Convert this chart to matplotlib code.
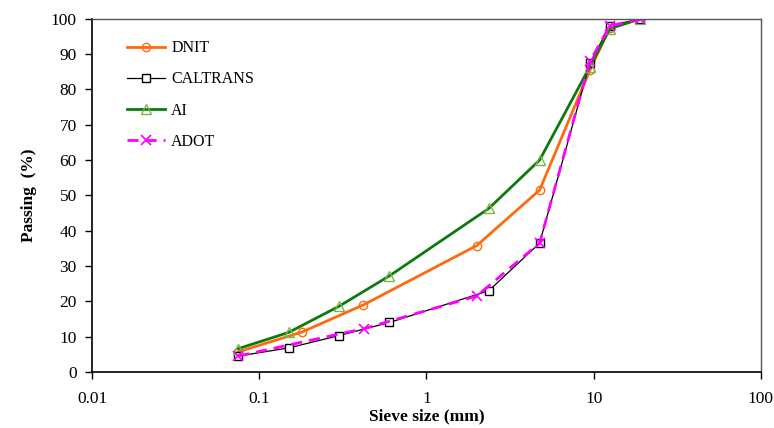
import matplotlib
matplotlib.use("Agg")
import matplotlib.pyplot as plt
from matplotlib.ticker import FixedLocator, FixedFormatter, NullLocator

plt.rcParams["font.family"] = ["Liberation Serif", "DejaVu Serif"]

# sieve openings (mm) and percent passing per specification
dnit_size = [0.075, 0.18, 0.42, 2.0, 4.75, 9.5, 12.5, 19.0]
dnit_pass = [5.7, 11.3, 19.0, 35.8, 51.5, 85.5, 97.5, 100.0]

caltrans_size = [0.075, 0.15, 0.30, 0.60, 2.36, 4.75, 9.5, 12.5, 19.0]
caltrans_pass = [4.5, 6.8, 10.3, 14.0, 23.0, 36.5, 87.5, 98.0, 100.0]

ai_size = [0.075, 0.15, 0.30, 0.60, 2.36, 4.75, 9.5, 12.5, 19.0]
ai_pass = [6.6, 11.2, 18.6, 27.2, 46.3, 60.0, 86.5, 97.2, 100.0]

adot_size = [0.075, 0.425, 2.0, 4.75, 9.5, 12.5, 19.0]
adot_pass = [4.5, 12.3, 21.5, 36.5, 88.0, 98.0, 100.0]

x_ticks = [0.01, 0.1, 1, 10, 100]
x_tick_labels = ["0.01", "0.1", "1", "10", "100"]

fig = plt.figure(figsize=(7.74, 4.28), dpi=100)
ax = fig.add_axes([0.119, 0.131, 0.864, 0.825])

ax.plot(dnit_size, dnit_pass, color="#FF6A10", lw=2.0, marker="o", ms=6,
        mfc="none", mec="#FF6A10", mew=1.0, label="DNIT")
ax.plot(caltrans_size, caltrans_pass, color="black", lw=0.9, marker="s", ms=6,
        mfc="white", mec="black", mew=1.0, label="CALTRANS")
ax.plot(ai_size, ai_pass, color="#0E7A0E", lw=2.0, marker="^", ms=7,
        mfc="none", mec="#7AB648", mew=1.0, label="AI")
ax.plot(adot_size, adot_pass, color="#FF00FF", lw=2.0, ls=(0, (4, 2.5)), marker="x",
        ms=6.5, mec="#FF00FF", mew=1.2, label="ADOT")

ax.set_xscale("log")
ax.set_xlim(0.01, 100)
ax.set_ylim(0, 100)
ax.xaxis.set_major_locator(FixedLocator(x_ticks))
ax.xaxis.set_major_formatter(FixedFormatter(x_tick_labels))
ax.xaxis.set_minor_locator(NullLocator())
ax.set_yticks(range(0, 101, 10))

ax.tick_params(direction="out", length=5, width=1, labelsize=12.5, pad=6)
ax.tick_params(axis="x", pad=9)
for side in ["left", "bottom"]:
    ax.spines[side].set_linewidth(1.2)
for side in ["top", "right"]:
    ax.spines[side].set_color("#555555")
    ax.spines[side].set_linewidth(1.0)

ax.set_xlabel("Sieve size (mm)", fontsize=12.5, fontweight="bold", labelpad=1)
ax.set_ylabel("Passing  (%)", fontsize=12.5, fontweight="bold", labelpad=10)

ax.legend(loc="upper left", bbox_to_anchor=(0.03, 0.98), frameon=False,
          fontsize=11.5, handlelength=2.4, labelspacing=0.95, handletextpad=0.4)

fig.savefig("out.png", dpi=100)
